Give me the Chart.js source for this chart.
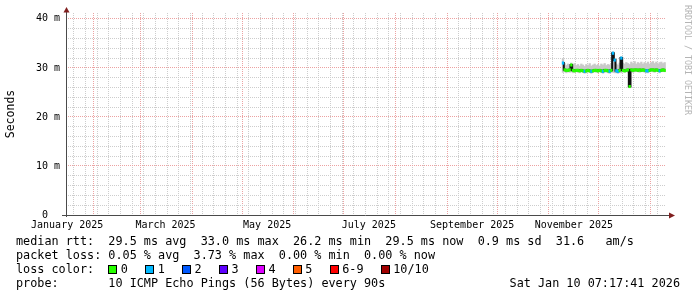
<!DOCTYPE html>
<html>
<head>
<meta charset="utf-8">
<script src="https://cdn.jsdelivr.net/npm/chart.js@4.4.1/dist/chart.umd.min.js"></script>
<style>
  html, body { margin: 0; padding: 0; background: #fff; }
  #wrap { position: relative; width: 697px; height: 297px; overflow: hidden; background: #fff; }
  canvas { position: absolute; left: 0; top: 0; }
  .txt { position: absolute; font-family: "DejaVu Sans Mono", monospace; font-size: 11.8px; line-height: 14px; white-space: pre; color: #000; }
  .sw { position: absolute; width: 7px; height: 7px; border: 1px solid #000; top: 265px; }
  #credit { position: absolute; left: 683px; top: 5px; writing-mode: vertical-rl; font-family: "DejaVu Sans Mono", monospace; font-size: 8.3px; line-height: 10px; color: #b4b4b4; white-space: pre; }
</style>
</head>
<body>
<div id="wrap">
  <canvas id="c" width="697" height="297"></canvas>
  <div id="legend"></div>
  <div id="credit">RRDTOOL / TOBI OETIKER</div>
</div>
<script>
// one row per day on the 360 day graph
const sampleDates = [
  '2025-11-09','2025-11-10','2025-11-11','2025-11-12','2025-11-13','2025-11-14','2025-11-15','2025-11-16','2025-11-17','2025-11-18',
  '2025-11-19','2025-11-20','2025-11-21','2025-11-22','2025-11-23','2025-11-24','2025-11-25','2025-11-26','2025-11-27','2025-11-28',
  '2025-11-29','2025-11-30','2025-12-01','2025-12-02','2025-12-03','2025-12-04','2025-12-05','2025-12-06','2025-12-07','2025-12-08',
  '2025-12-09','2025-12-10','2025-12-11','2025-12-12','2025-12-13','2025-12-14','2025-12-15','2025-12-16','2025-12-17','2025-12-18',
  '2025-12-19','2025-12-20','2025-12-21','2025-12-22','2025-12-23','2025-12-24','2025-12-25','2025-12-26','2025-12-27','2025-12-28',
  '2025-12-29','2025-12-30','2025-12-31','2026-01-01','2026-01-02','2026-01-03','2026-01-04','2026-01-05','2026-01-06','2026-01-07',
  '2026-01-08','2026-01-09'
];
// median rtt in ms
const median = [
  31.0, 29.6, 29.5, 29.5, 29.6, 30.6, 29.5, 29.4, 29.5, 29.5,
  29.4, 29.5, 29.4, 29.3, 29.4, 29.5, 29.4, 29.3, 29.4, 29.5,
  29.5, 29.4, 29.5, 29.4, 29.3, 29.5, 29.5, 29.4, 29.3, 29.5,
  33.0, 31.6, 29.4, 29.3, 29.5, 32.0, 29.5, 29.4, 29.5, 29.6,
  26.2, 29.6, 29.5, 29.6, 29.6, 29.5, 29.6, 29.5, 29.6, 29.5,
  29.4, 29.4, 29.5, 29.6, 29.6, 29.5, 29.6, 29.5, 29.4, 29.5,
  29.6, 29.5
];
// lost pings out of 10
const loss = [
  1, 0, 0, 0, 0, 0, 0, 0, 0, 0,
  0, 0, 0, 1, 0, 0, 0, 1, 0, 0,
  0, 0, 0, 0, 1, 0, 0, 0, 1, 0,
  1, 1, 1, 1, 0, 1, 0, 0, 0, 0,
  0, 0, 0, 0, 0, 0, 0, 0, 0, 0,
  1, 1, 0, 0, 0, 0, 0, 0, 1, 0,
  0, 0
];
// smoke (spread of the single pings), ms
const smokeHi = [
  31.9, 30.9, 30.5, 30.8, 30.4, 31.0, 30.6, 30.9, 30.5, 30.7,
  30.4, 30.8, 30.6, 30.3, 30.7, 30.5, 30.9, 30.4, 30.6, 30.8,
  30.5, 30.7, 30.4, 30.8, 30.6, 30.9, 30.5, 30.7, 30.6, 30.8,
  33.3, 31.9, 30.8, 30.6, 31.0, 32.3, 31.0, 30.8, 31.1, 30.9,
  30.7, 31.2, 30.9, 31.3, 30.8, 31.1, 30.9, 31.2, 30.8, 31.1,
  30.9, 31.2, 30.8, 31.1, 31.3, 30.9, 31.2, 30.8, 31.1, 31.2,
  30.9, 31.1
];
const smokeLo = [
  29.1, 29.2, 29.0, 29.2, 29.1, 29.2, 29.0, 29.1, 29.2, 29.1,
  29.0, 29.2, 29.1, 28.9, 29.0, 29.2, 29.1, 28.9, 29.1, 29.2,
  29.1, 29.0, 29.2, 29.1, 28.9, 29.2, 29.1, 29.0, 28.9, 29.2,
  29.1, 29.0, 29.0, 28.9, 29.1, 29.0, 29.2, 29.1, 29.2, 29.1,
  29.0, 29.2, 29.1, 29.2, 29.3, 29.2, 29.1, 29.2, 29.3, 29.1,
  29.0, 29.0, 29.2, 29.3, 29.2, 29.1, 29.3, 29.2, 29.0, 29.2,
  29.3, 29.2
];

const endTime = '2026-01-10T07:17:41Z';
const spanDays = 360;
const monthStarts = ['2025-02-01','2025-03-01','2025-04-01','2025-05-01','2025-06-01','2025-07-01',
                     '2025-08-01','2025-09-01','2025-10-01','2025-11-01','2025-12-01','2026-01-01'];
const monthLabelDates = ['2025-01-16','2025-03-16','2025-05-16','2025-07-16','2025-09-16','2025-11-16'];
const monthLabels = ['January 2025','March 2025','May 2025','July 2025','September 2025','November 2025'];
const firstMonday = '2025-01-20';
const yMajor = [0, 10, 20, 30, 40];
const yMajorLabels = ['0  ', '10 m', '20 m', '30 m', '40 m'];
const yMinorStep = 2;

const rttStats = ['29.5 ms avg', '33.0 ms max', '26.2 ms min', '29.5 ms now', '0.9 ms sd', '31.6   am/s'];
const lossStats = ['0.05 % avg', '3.73 % max', '0.00 % min', '0.00 % now'];
const lossLabels = ['0', '1', '2', '3', '4', '5', '6-9', '10/10'];
const lossColors = ['#26ff00', '#00b8ff', '#0059ff', '#5e00ff', '#dd00ff', '#ff5e00', '#ff0000', '#a10000'];
const probeText = '10 ICMP Echo Pings (56 Bytes) every 90s';
const stampText = 'Sat Jan 10 07:17:41 2026';

// time as days since 2025-01-01 UTC
const T0 = Date.UTC(2025, 0, 1);
const toDay = s => (Date.parse(s.length === 10 ? s + 'T00:00:00Z' : s) - T0) / 86400000;
const xMax = toDay(endTime);
const xMin = xMax - spanDays;
const sampleX = sampleDates.map(d => toDay(d + 'T12:00:00Z'));

function lossColor(n) {
  if (n >= 10) return lossColors[7];
  if (n >= 6) return lossColors[6];
  return lossColors[n];
}

// x ticks: weekly minor grid, monthly major grid, mid month labels
const monthDays = monthStarts.map(toDay);
const xTicks = [];
for (let d = toDay(firstMonday); d < xMax; d += 7) {
  if (!monthDays.includes(d)) xTicks.push({ value: d, kind: 'week' });
}
monthDays.forEach(d => xTicks.push({ value: d, kind: 'month' }));
monthLabelDates.forEach((d, i) => xTicks.push({ value: toDay(d), kind: 'label', text: monthLabels[i] }));
xTicks.sort((a, b) => a.value - b.value);

const yTicks = [];
for (let v = 0; v <= 40; v += yMinorStep) yTicks.push({ value: v });

const GRID = '#cdcdcd';
const MGRID = '#eca2a2';
const tickFont = { family: 'DejaVu Sans Mono', size: 10 };

const axesPlugin = {
  id: 'rrdAxes',
  afterDraw(chart) {
    const { ctx, chartArea: a } = chart;
    const x0 = a.left + 0.5, y0 = a.bottom + 0.5;
    ctx.save();
    ctx.strokeStyle = '#4a4a4a';
    ctx.lineWidth = 1;
    ctx.beginPath();
    ctx.moveTo(a.left - 4, y0); ctx.lineTo(a.right + 3, y0);
    ctx.moveTo(x0, a.bottom + 2); ctx.lineTo(x0, a.top - 3);
    ctx.stroke();
    ctx.fillStyle = '#801f1f';
    ctx.beginPath();
    ctx.moveTo(x0 - 3, a.top - 0.5); ctx.lineTo(x0 + 3, a.top - 0.5); ctx.lineTo(x0, a.top - 6);
    ctx.closePath(); ctx.fill();
    ctx.beginPath();
    ctx.moveTo(a.right + 3, y0 - 3); ctx.lineTo(a.right + 3, y0 + 3); ctx.lineTo(a.right + 9, y0);
    ctx.closePath(); ctx.fill();
    ctx.restore();
  }
};

new Chart(document.getElementById('c'), {
  type: 'bar',
  data: {
    datasets: [
      {
        type: 'bar',
        label: 'smoke',
        data: sampleX.map((x, i) => ({ x: x, y: [smokeLo[i], smokeHi[i]] })),
        backgroundColor: '#c9c9c9',
        borderWidth: 0,
        barPercentage: 1,
        categoryPercentage: 1,
        grouped: false,
        order: 3
      },
      {
        type: 'line',
        label: 'median',
        data: sampleX.map((x, i) => ({ x: x, y: median[i] })),
        borderColor: '#111111',
        borderWidth: 2,
        pointRadius: 0,
        stepped: 'middle',
        fill: false,
        order: 2
      },
      {
        type: 'bar',
        label: 'loss',
        data: sampleX.map((x, i) => ({ x: x, y: [median[i] - 0.25, median[i] + 0.25] })),
        backgroundColor: loss.map(lossColor),
        borderWidth: 0,
        barPercentage: 1,
        categoryPercentage: 1,
        grouped: false,
        order: 1
      }
    ]
  },
  options: {
    responsive: false,
    animation: false,
    devicePixelRatio: 1,
    layout: { padding: { left: 0, right: 31, top: 13, bottom: 0 } },
    plugins: { legend: { display: false }, tooltip: { enabled: false } },
    scales: {
      x: {
        type: 'linear',
        min: xMin,
        max: xMax,
        offset: false,
        afterBuildTicks: s => { s.ticks = xTicks.map(t => Object.assign({}, t)); },
        afterFit: s => { s.height = 82; },
        grid: {
          offset: false,
          drawTicks: false,
          color: c => (c.tick && c.tick.kind === 'month') ? MGRID : (c.tick && c.tick.kind === 'week') ? GRID : 'rgba(0,0,0,0)'
        },
        border: { display: false, dash: [1, 1] },
        ticks: {
          autoSkip: false,
          maxRotation: 0,
          minRotation: 0,
          padding: 4,
          color: '#000',
          font: tickFont,
          callback: (v, i, ticks) => ticks[i].kind === 'label' ? ticks[i].text : ''
        }
      },
      y: {
        type: 'linear',
        min: 0,
        max: 41.2,
        afterBuildTicks: s => { s.ticks = yTicks.map(t => Object.assign({}, t)); },
        afterFit: s => { s.width = 66; },
        grid: {
          drawTicks: false,
          color: c => (c.tick && yMajor.includes(c.tick.value)) ? MGRID : GRID
        },
        border: { display: false, dash: [1, 1] },
        ticks: {
          autoSkip: false,
          padding: 6,
          color: '#000',
          font: tickFont,
          callback: v => { const k = yMajor.indexOf(v); return k >= 0 ? yMajorLabels[k] : ''; }
        },
        title: {
          display: true,
          text: 'Seconds',
          color: '#000',
          font: { family: 'DejaVu Sans Mono', size: 11.5 },
          padding: { top: 4, bottom: 4 }
        }
      }
    }
  },
  plugins: [axesPlugin]
});

// text block under the graph
const legend = document.getElementById('legend');
function addText(text, left, top, right) {
  const el = document.createElement('div');
  el.className = 'txt';
  el.textContent = text;
  el.style.top = top + 'px';
  if (right !== undefined) el.style.right = right + 'px'; else el.style.left = left + 'px';
  legend.appendChild(el);
}
addText('median rtt:  ' + rttStats.join('  '), 16, 234);
addText('packet loss: ' + lossStats.join('  '), 16, 248);
addText('loss color:', 16, 262);
let sx = 108.3;
lossLabels.forEach((lab, i) => {
  const sw = document.createElement('div');
  sw.className = 'sw';
  sw.style.left = sx + 'px';
  sw.style.background = lossColors[i];
  legend.appendChild(sw);
  addText(lab, sx + 12.5, 262);
  sx += 36.9 + 7.09 * (lab.length - 1);
});
addText('probe:       ' + probeText, 16, 276);
addText(stampText, 0, 276, 17);
</script>
</body>
</html>
